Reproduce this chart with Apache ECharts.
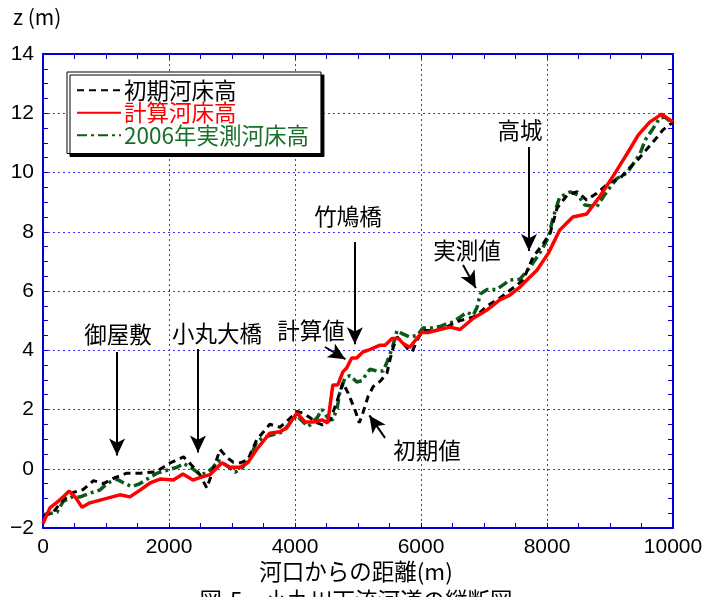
<!DOCTYPE html>
<html>
<head>
<meta charset="utf-8">
<script src="https://cdn.jsdelivr.net/npm/echarts@6/dist/echarts.min.js"></script>
<style>
  html, body { margin: 0; padding: 0; background: #fff; }
  #chart { width: 712px; height: 597px; }
</style>
</head>
<body>
<div id="chart"></div>
<script>
// 河口からの距離 (m) / 河床高 z (m)
const initX = [0, 160, 320, 480, 640, 800, 960, 1140, 1330, 1540, 1800, 2020, 2230, 2360, 2490, 2600, 2700, 2810, 2920, 3020, 3130, 3250, 3390, 3600, 3760, 3920, 4030, 4130, 4240, 4350, 4440, 4560, 4670, 4760, 4840, 4950, 5020, 5080, 5160, 5240, 5350, 5460, 5510, 5560, 5620, 5700, 5780, 5860, 5940, 6030, 6250, 6410, 6510, 6620, 6830, 6940, 7050, 7250, 7460, 7620, 7780, 7940, 8050, 8160, 8320, 8480, 8630, 8790, 9000, 9160, 9270, 9430, 9590, 9750, 9840, 10000]
const initZ = [-1.6, -1.47, -1.05, -0.8, -0.7, -0.4, -0.5, -0.3, -0.15, -0.15, -0.1, 0.2, 0.4, 0.12, -0.2, -0.65, -0.05, 0.65, 0.38, 0.22, 0.2, 0.3, 0.97, 1.5, 1.4, 1.7, 1.93, 1.88, 1.72, 1.55, 1.48, 1.65, 2.3, 2.9, 2.57, 2.0, 1.55, 1.9, 2.44, 2.77, 2.95, 3.23, 3.7, 4.1, 4.45, 4.28, 4.07, 3.95, 4.35, 4.67, 4.67, 4.78, 4.9, 5.0, 5.12, 5.28, 5.5, 5.76, 6.1, 6.37, 7.15, 7.6, 7.95, 8.8, 9.24, 9.35, 9.07, 9.3, 9.67, 9.8, 10.08, 10.4, 10.8, 11.2, 11.44, 11.7]

const calcX = [0, 30, 110, 240, 320, 415, 510, 620, 745, 1010, 1220, 1380, 1540, 1700, 1860, 2070, 2220, 2380, 2490, 2650, 2840, 2970, 3130, 3250, 3390, 3600, 3760, 3870, 4030, 4160, 4290, 4430, 4520, 4600, 4680, 4760, 4820, 4900, 4980, 5080, 5160, 5240, 5350, 5430, 5540, 5640, 5710, 5820, 6010, 6110, 6300, 6460, 6620, 6830, 7040, 7250, 7410, 7570, 7680, 7840, 8020, 8200, 8410, 8630, 8840, 9080, 9290, 9450, 9630, 9820, 10000]
const calcZ = [-1.85, -1.7, -1.32, -1.1, -0.95, -0.75, -0.95, -1.3, -1.15, -1.0, -0.88, -0.95, -0.72, -0.48, -0.35, -0.38, -0.18, -0.38, -0.3, -0.2, 0.2, 0.05, 0.05, 0.2, 0.65, 1.2, 1.25, 1.38, 1.88, 1.58, 1.58, 1.65, 1.55, 2.83, 2.83, 3.27, 3.4, 3.74, 3.74, 3.95, 4.0, 4.07, 4.17, 4.17, 4.4, 4.4, 4.24, 4.1, 4.6, 4.6, 4.7, 4.78, 4.7, 5.08, 5.35, 5.7, 5.86, 6.13, 6.37, 6.7, 7.27, 8.05, 8.5, 8.6, 9.2, 9.98, 10.7, 11.27, 11.7, 11.97, 11.7]

const obsX = [0, 220, 320, 460, 590, 750, 900, 1030, 1170, 1300, 1410, 1540, 1650, 1810, 1970, 2130, 2230, 2360, 2490, 2600, 2700, 2780, 2860, 2970, 3050, 3170, 3290, 3390, 3490, 3600, 3710, 3810, 3920, 4030, 4130, 4210, 4350, 4430, 4520, 4600, 4670, 4710, 4790, 4870, 4980, 5060, 5190, 5300, 5400, 5460, 5540, 5620, 5710, 5820, 5940, 6030, 6170, 6300, 6410, 6510, 6620, 6730, 6830, 6890, 6940, 7050, 7200, 7410, 7570, 7730, 7890, 8020, 8100, 8200, 8370, 8490, 8600, 8790, 8890, 9000, 9110, 9270, 9370, 9480, 9560, 9670, 9790, 9870, 10000]
const obsZ = [-1.55, -1.47, -1.1, -0.95, -0.95, -0.82, -0.72, -0.48, -0.35, -0.5, -0.6, -0.5, -0.35, -0.15, -0.05, 0.05, 0.18, 0.02, -0.18, -0.15, 0.05, 0.28, 0.18, 0.02, -0.12, 0.05, 0.38, 0.9, 1.05, 1.12, 1.18, 1.25, 1.55, 1.8, 1.58, 1.42, 1.72, 2.0, 1.72, 1.65, 2.05, 2.56, 3.05, 3.15, 2.93, 2.97, 3.36, 3.3, 3.3, 3.6, 4.05, 4.67, 4.55, 4.45, 4.5, 4.75, 4.75, 4.8, 4.9, 4.95, 5.12, 5.28, 5.18, 5.45, 5.9, 6.05, 6.05, 6.37, 6.4, 6.8, 7.3, 7.8, 8.5, 9.17, 9.35, 9.24, 8.9, 8.84, 9.17, 9.5, 9.8, 9.98, 10.3, 10.65, 11.1, 11.44, 11.84, 11.87, 11.65]

const seriesNames = ['初期河床高', '計算河床高', '2006年実測河床高']

// 注記 [文字, x, z]
const labels = [
    ['御屋敷', 1190, 4.55],
    ['小丸大橋', 2762, 4.58],
    ['竹鳩橋', 4841, 8.5],
    ['計算値', 4254, 4.68],
    ['初期値', 6095, 0.63],
    ['実測値', 6730, 7.38],
    ['高城', 7571, 11.43]
]
// 矢印 [x1, z1, x2, z2]
const arrows = [
    [1175, 3.94, 1175, 0.45],
    [2460, 4.04, 2460, 0.55],
    [4950, 7.65, 4950, 4.2],
    [4476, 4.11, 4800, 3.7],
    [5429, 1.04, 5180, 1.8],
    [6667, 6.88, 6870, 6.1],
    [7714, 10.86, 7714, 7.35]
]

const zip = (xs, ys) => xs.map((x, i) => [x, ys[i]])

const BLUE = '#0000dc'
const CJK = '"Noto Sans CJK JP", sans-serif'
const NUM = '"Liberation Sans", Arial, sans-serif'

function axisBase(pos, min, max, interval, showLabel) {
    return {
        type: 'value',
        position: pos,
        min: min,
        max: max,
        interval: interval,
        axisLine: {show: true, onZero: false, lineStyle: {color: BLUE, width: 2}},
        axisTick: {show: true, inside: true, length: 5, lineStyle: {color: BLUE, width: 1}},
        minorTick: {show: true, splitNumber: 4, length: 5, lineStyle: {color: BLUE, width: 1}},
        splitLine: {show: showLabel, lineStyle: {color: '#3535ff', width: 1, type: [2, 3]}},
        axisLabel: {
            show: showLabel,
            color: '#000',
            fontSize: 21,
            fontFamily: NUM,
            margin: 9,
            formatter: v => String(v).replace('-', '\u2212')
        }
    }
}

const chart = echarts.init(document.getElementById('chart'), null, {renderer: 'canvas'})

const options = {
    animation: false,
    backgroundColor: '#fff',
    grid: {left: 43, top: 54, width: 630, height: 474},
    legend: {
        orient: 'vertical',
        left: 67,
        top: 72,
        padding: [7, 12, 7, 9],
        itemGap: 0,
        itemWidth: 44,
        itemHeight: 14,
        itemStyle: {opacity: 0},
        backgroundColor: '#fff',
        borderColor: '#000',
        borderWidth: 1,
        shadowColor: '#000',
        shadowOffsetX: 3,
        shadowOffsetY: 3,
        shadowBlur: 0,
        textStyle: {fontFamily: CJK, fontSize: 22.5, lineHeight: 22.5, padding: [0, 0, 0, -2]},
        data: [
            {name: seriesNames[0], textStyle: {color: '#000'}},
            {name: seriesNames[1], textStyle: {color: '#ff0000'}},
            {name: seriesNames[2], textStyle: {color: '#177028'}}
        ]
    },
    xAxis: [
        axisBase('bottom', 0, 10000, 2000, true),
        axisBase('top', 0, 10000, 2000, false)
    ],
    yAxis: [
        axisBase('left', -2, 14, 2, true),
        axisBase('right', -2, 14, 2, false)
    ],
    graphic: [
        {type: 'text', left: 13, top: 7, style: {text: 'z (m)', font: '21px ' + CJK, fill: '#000'}},
        {type: 'text', left: 'center', top: 560, style: {text: '河口からの距離(m)', font: '22.5px ' + CJK, fill: '#000'}},
        {type: 'text', left: 'center', top: 589, style: {text: '図-5　小丸川下流河道の縦断図', font: '22.5px ' + CJK, fill: '#000'}}
    ],
    series: [
        {
            name: seriesNames[2],
            type: 'line',
            symbol: 'none',
            z: 2,
            data: zip(obsX, obsZ),
            itemStyle: {color: '#0b5a1c'},
            lineStyle: {color: '#0b5a1c', width: 3.5, type: [10, 4, 3, 4]}
        },
        {
            name: seriesNames[0],
            type: 'line',
            symbol: 'none',
            z: 3,
            data: zip(initX, initZ),
            itemStyle: {color: '#000'},
            lineStyle: {color: '#000', width: 3, type: [7, 5]}
        },
        {
            name: seriesNames[1],
            type: 'line',
            symbol: 'none',
            z: 4,
            data: zip(calcX, calcZ),
            itemStyle: {color: '#ff0000'},
            lineStyle: {color: '#ff0000', width: 3.5}
        },
        {
            name: 'annot',
            type: 'line',
            data: [],
            z: 5,
            markLine: {
                silent: true,
                symbol: ['none', 'arrow'],
                symbolSize: [12, 17],
                label: {show: false},
                lineStyle: {color: '#000', width: 2, type: 'solid'},
                data: arrows.map(a => [{coord: [a[0], a[1]]}, {coord: [a[2], a[3]]}])
            },
            markPoint: {
                silent: true,
                symbol: 'rect',
                symbolSize: 1,
                itemStyle: {color: 'rgba(0,0,0,0)'},
                label: {show: true, position: 'inside', formatter: '{b}', color: '#000', fontSize: 22.5, fontFamily: CJK},
                data: labels.map(l => ({name: l[0], coord: [l[1], l[2]]}))
            }
        }
    ]
}

chart.setOption(options)
</script>
</body>
</html>
